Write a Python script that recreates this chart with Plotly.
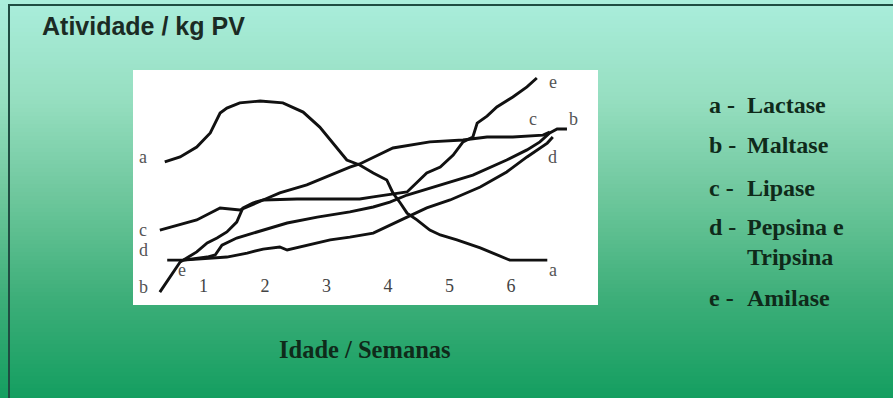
import plotly.graph_objects as go

W, H = 893, 398

# ---- data (weeks, relative activity) ----
weeks_ticks = [1, 2, 3, 4, 5, 6]
tick_labels = ["1", "2", "3", "4", "5", "6"]

lactase_x = [0.37, 0.62, 0.89, 1.11, 1.27, 1.38, 1.59, 1.92, 2.29, 2.62, 2.89, 3.11, 3.33, 3.54, 3.76, 3.98, 4.08, 4.20, 4.31, 4.47, 4.68, 4.85, 5.12, 5.50, 5.77, 5.98, 6.59]
lactase_y = [6.09, 6.30, 6.72, 7.32, 8.17, 8.38, 8.60, 8.68, 8.60, 8.21, 7.57, 6.89, 6.17, 5.96, 5.62, 5.32, 4.77, 4.34, 3.91, 3.62, 3.19, 2.98, 2.77, 2.43, 2.13, 1.91, 1.91]

lipase_x = [0.29, 0.89, 1.27, 1.59, 1.97, 2.24, 2.68, 3.06, 3.38, 3.54, 3.92, 4.08, 4.68, 5.22, 5.61, 6.03, 6.52, 6.63]
lipase_y = [3.19, 3.62, 4.13, 4.04, 4.47, 4.77, 5.11, 5.53, 5.87, 6.00, 6.47, 6.68, 6.94, 7.02, 7.15, 7.15, 7.23, 7.36]

amilase_x = [0.29, 0.46, 0.62, 0.89, 1.06, 1.22, 1.38, 1.54, 1.64, 1.80, 1.97, 2.52, 3.06, 3.54, 3.76, 4.03, 4.20, 4.31, 4.47, 4.63, 4.85, 5.06, 5.22, 5.38, 5.45, 5.61, 5.77, 6.03, 6.26, 6.42]
amilase_y = [0.55, 1.19, 1.83, 2.26, 2.64, 2.85, 3.11, 3.53, 4.13, 4.34, 4.47, 4.51, 4.51, 4.51, 4.60, 4.72, 4.77, 4.81, 5.23, 5.62, 5.87, 6.38, 6.94, 7.15, 7.74, 8.04, 8.43, 8.85, 9.28, 9.66]

maltase_x = [0.67, 1.06, 1.19, 1.30, 1.54, 1.97, 2.36, 2.85, 3.38, 3.76, 4.03, 4.31, 4.85, 5.38, 5.93, 6.26, 6.47, 6.63, 6.75, 6.91]
maltase_y = [1.91, 2.04, 2.13, 2.55, 2.85, 3.19, 3.49, 3.74, 3.96, 4.17, 4.38, 4.68, 5.11, 5.53, 6.17, 6.60, 6.94, 7.32, 7.49, 7.49]

pepsina_x = [0.41, 0.67, 1.38, 1.71, 1.97, 2.24, 2.36, 2.68, 3.06, 3.38, 3.76, 4.31, 4.63, 5.01, 5.50, 5.93, 6.26, 6.59, 6.68]
pepsina_y = [1.91, 1.91, 2.04, 2.21, 2.38, 2.47, 2.34, 2.55, 2.77, 2.89, 3.06, 3.74, 4.13, 4.47, 5.02, 5.66, 6.30, 6.89, 7.15]

# curve letter labels (letter, x, y)
left_labels = [("a", 0.02, 6.30), ("c", 0.02, 3.19), ("d", 0.02, 2.34), ("b", 0.02, 0.77), ("e", 0.65, 1.49)]
right_labels = [("e", 6.68, 9.49), ("c", 6.36, 7.91), ("b", 7.01, 7.91), ("d", 6.68, 6.30), ("a", 6.68, 1.49)]

legend_letters = ["a -", "b -", "c -", "d -", "", "e -"]
legend_names = ["Lactase", "Maltase", "Lipase", "Pepsina e", "Tripsina", "Amilase"]
legend_ys = [105, 145, 188, 227, 257, 298]

# ---- layout helpers ----
def py(p):
    return 1 - p / H

def px(p):
    return p / W

box_l, box_r, box_t, box_b = 133, 598, 70, 305

fig = go.Figure()

series = [
    ("Lactase", lactase_x, lactase_y),
    ("Maltase", maltase_x, maltase_y),
    ("Lipase", lipase_x, lipase_y),
    ("Pepsina e Tripsina", pepsina_x, pepsina_y),
    ("Amilase", amilase_x, amilase_y),
]
for name, xs, ys in series:
    fig.add_trace(go.Scatter(x=xs, y=ys, mode="lines", name=name,
                             line=dict(color="#111111", width=2.9),
                             showlegend=False, hoverinfo="skip"))

shapes = []
# gradient background
stops = [(0, (170, 238, 220)), (100, (150, 222, 192)), (200, (108, 198, 155)),
         (300, (60, 174, 120)), (398, (20, 158, 96))]
def col_at(yp):
    for (y0, c0), (y1, c1) in zip(stops[:-1], stops[1:]):
        if y0 <= yp <= y1:
            t = (yp - y0) / (y1 - y0)
            return tuple(int(round(a + (b - a) * t)) for a, b in zip(c0, c1))
    return stops[-1][1]
step = 4
for y0 in range(0, H, step):
    c = col_at(y0 + step / 2)
    shapes.append(dict(type="rect", xref="paper", yref="paper", x0=0, x1=1,
                       y0=py(min(y0 + step, H)), y1=py(y0), line=dict(width=0),
                       fillcolor="rgb(%d,%d,%d)" % c, layer="below"))
# white plot box
shapes.append(dict(type="rect", xref="paper", yref="paper", x0=px(box_l), x1=px(box_r),
                   y0=py(box_b), y1=py(box_t), line=dict(width=0),
                   fillcolor="white", layer="below"))
# frame lines (top and left)
shapes.append(dict(type="line", xref="paper", yref="paper", x0=px(8), x1=1,
                   y0=py(5), y1=py(5), line=dict(color="#1f4d42", width=2)))
shapes.append(dict(type="line", xref="paper", yref="paper", x0=px(9), x1=px(9),
                   y0=py(4), y1=0, line=dict(color="#1f4d42", width=2)))

annotations = []
serif = "Liberation Serif"
for t, x, y in left_labels + right_labels:
    annotations.append(dict(x=x, y=y, xref="x", yref="y", text=t, showarrow=False,
                            font=dict(family=serif, size=18, color="#555555")))
annotations.append(dict(x=px(40), y=py(26), xref="paper", yref="paper", text="<b>Atividade / kg PV</b>",
                        showarrow=False, xanchor="left", yanchor="middle",
                        font=dict(family="Liberation Sans", size=25, color="#1b2b24")))
annotations.append(dict(x=px(365), y=py(349), xref="paper", yref="paper", text="<b>Idade / Semanas</b>",
                        showarrow=False, xanchor="center", yanchor="middle",
                        font=dict(family=serif, size=24.5, color="#0f2a1a")))
for lt, nm, yy in zip(legend_letters, legend_names, legend_ys):
    if lt:
        annotations.append(dict(x=px(707), y=py(yy), xref="paper", yref="paper", text="<b>%s</b>" % lt,
                                showarrow=False, xanchor="left", yanchor="middle",
                                font=dict(family=serif, size=24, color="#0f2a1a")))
    annotations.append(dict(x=px(745), y=py(yy), xref="paper", yref="paper", text="<b>%s</b>" % nm,
                            showarrow=False, xanchor="left", yanchor="middle",
                            font=dict(family=serif, size=24, color="#0f2a1a")))

x_lo = (box_l - 142) / 61.5
x_hi = (box_r - 142) / 61.5

fig.update_layout(
    width=W, height=H,
    margin=dict(l=0, r=0, t=0, b=0),
    paper_bgcolor="rgb(100,195,150)",
    plot_bgcolor="rgba(0,0,0,0)",
    shapes=shapes,
    annotations=annotations,
    xaxis=dict(domain=[px(box_l), px(box_r)], range=[x_lo, x_hi], showgrid=False, zeroline=False,
               showline=False, tickvals=weeks_ticks, ticktext=tick_labels, ticks="",
               ticklabelposition="inside", ticklabelstandoff=6,
               tickfont=dict(family=serif, size=18, color="#444444")),
    yaxis=dict(domain=[py(box_b), py(box_t)], range=[0, 10], showgrid=False, zeroline=False,
               showline=False, showticklabels=False, ticks=""),
)

fig.write_html("out.html", config={"displayModeBar": False},
               post_script="document.body.style.margin='0';document.body.style.overflow='hidden';")
